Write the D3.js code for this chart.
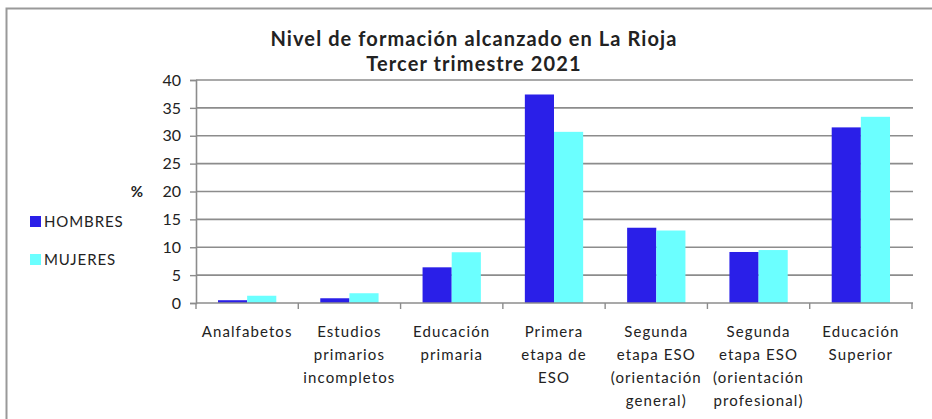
<!DOCTYPE html>
<html><head><meta charset="utf-8">
<script src="https://cdn.jsdelivr.net/npm/d3@7"></script>
<style>
html,body{margin:0;padding:0;background:#fff;}
text{font-family:Lato,"Open Sans",sans-serif;fill:#222;}
</style></head>
<body><svg id="c" width="932" height="419"></svg>
<script>
const categories = [
  ["Analfabetos"],
  ["Estudios","primarios","incompletos"],
  ["Educación","primaria"],
  ["Primera","etapa de","ESO"],
  ["Segunda","etapa ESO","(orientación","general)"],
  ["Segunda","etapa ESO","(orientación","profesional)"],
  ["Educación","Superior"]
];
const seriesNames = ["HOMBRES","MUJERES"];
const hombres = [0.5, 0.85, 6.4, 37.4, 13.5, 9.15, 31.5];
const mujeres = [1.3, 1.75, 9.1, 30.7, 13.0, 9.5, 33.4];
const yTicks = [0,5,10,15,20,25,30,35,40];
const colors = ["#2a1fe8","#6bffff"];

const FONT = 'Lato,"Open Sans",sans-serif';
const svg = d3.select("#c");
// outer frame
svg.append("rect").attr("x",6.5).attr("y",8.5).attr("width",940).attr("height",430)
  .attr("fill","none").attr("stroke","#999").attr("stroke-width",2);

const x0 = d3.scaleBand().domain(d3.range(categories.length)).range([196,912]).paddingInner(0.43).paddingOuter(0.215);
const xCat = d3.scaleBand().domain(d3.range(categories.length)).range([196,912]);
const x1 = d3.scaleBand().domain([0,1]).range([0,x0.bandwidth()]);
const y = d3.scaleLinear().domain([0,40]).range([303,80]);

// gridlines
svg.append("g").selectAll("line").data(yTicks.slice(1)).join("line")
  .attr("x1",196).attr("x2",913).attr("y1",d=>y(d)).attr("y2",d=>y(d))
  .attr("stroke","#8c8c8c").attr("stroke-width",1.6);

// y axis
const ya = svg.append("g").attr("transform","translate(196,0)")
  .call(d3.axisLeft(y).tickValues(yTicks).tickSize(6).tickPadding(9));
ya.select(".domain").attr("stroke","#8c8c8c").attr("stroke-width",1.6);
ya.selectAll(".tick line").attr("stroke","#8c8c8c").attr("stroke-width",1.4);
ya.selectAll(".tick text").attr("font-size",16).attr("fill","#222")
  .style("font-family",FONT);

// bars
const data = categories.map((c,i)=>({i, vals:[hombres[i],mujeres[i]]}));
const g = svg.append("g").selectAll("g").data(data).join("g")
  .attr("transform",d=>`translate(${x0(d.i)},0)`);
g.selectAll("rect").data(d=>d.vals.map((v,k)=>({v,k}))).join("rect")
  .attr("x",d=>x1(d.k)).attr("width",x1.bandwidth())
  .attr("y",d=>y(d.v)).attr("height",d=>y(0)-y(d.v))
  .attr("fill",d=>colors[d.k]);

// x axis
const xa = svg.append("g").attr("transform","translate(0,303)");
xa.append("line").attr("x1",196).attr("x2",913).attr("y1",0).attr("y2",0)
  .attr("stroke","#8c8c8c").attr("stroke-width",1.6);
const bounds = d3.range(categories.length+1).map(i=> i<categories.length ? xCat(i) : xCat.range()[1]);
xa.selectAll("line.t").data(bounds).join("line").attr("class","t")
  .attr("x1",d=>d).attr("x2",d=>d).attr("y1",0).attr("y2",6)
  .attr("stroke","#8c8c8c").attr("stroke-width",1.4);

// x labels
const lbl = svg.append("g").selectAll("text").data(categories).join("text")
  .attr("text-anchor","middle").attr("font-size",15).attr("letter-spacing",1.1)
  .attr("x",(d,i)=>xCat(i)+xCat.bandwidth()/2).attr("y",337);
lbl.selectAll("tspan").data(d=>d).join("tspan")
  .attr("x",function(){return this.parentNode.getAttribute("x");})
  .attr("dy",(d,j)=>j===0?0:23).text(d=>d);

// % label
svg.append("text").attr("x",137).attr("y",197).attr("font-size",15).attr("font-weight","bold")
  .attr("text-anchor","middle").text("%");

// title
const t = svg.append("text").attr("text-anchor","middle").attr("font-size",20).attr("font-weight","bold")
  .attr("letter-spacing",1.1);
t.append("tspan").attr("x",474).attr("y",46).text("Nivel de formación alcanzado en La Rioja");
t.append("tspan").attr("x",474).attr("y",71).text("Tercer trimestre 2021");

// legend
const lg = svg.append("g").selectAll("g").data(seriesNames).join("g")
  .attr("transform",(d,i)=>`translate(30,${222+i*38})`);
lg.append("rect").attr("x",0).attr("y",-6).attr("width",11).attr("height",11)
  .attr("fill",(d,i)=>colors[i]);
lg.append("text").attr("x",14).attr("y",5).attr("font-size",15).attr("letter-spacing",0.9).text(d=>d);
</script></body></html>
